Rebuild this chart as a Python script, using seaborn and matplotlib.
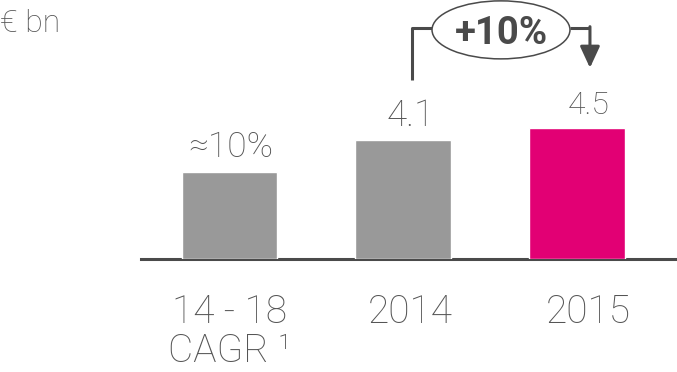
import matplotlib
matplotlib.use("Agg")
import matplotlib.pyplot as plt
import matplotlib.transforms as mtransforms
from matplotlib.patches import Ellipse
import seaborn as sns
import pandas as pd

# Revenue figures (EUR bn) and labels
categories = ["14 - 18\nCAGR \u00b9", "2014", "2015"]
values = [3.0, 4.1, 4.5]
value_labels = ["\u224810%", "4.1", "4.5"]
bar_colors = ["#999999", "#999999", "#E20074"]
growth_label = "+10%"
unit_label = "\u20ac bn"

TEXT = "#555555"
DARK = "#4a4a4a"
FONT = ["Roboto", "DejaVu Sans"]

sns.set_theme(style="white")
plt.rcParams["font.family"] = FONT
plt.rcParams["font.weight"] = "light"

df = pd.DataFrame({"cat": categories, "val": values})

fig = plt.figure(figsize=(6.77, 3.72), dpi=100)
ax = fig.add_axes([141 / 677, 113 / 372, 536 / 677, 259 / 372])

sns.barplot(data=df, x="cat", y="val", hue="cat", palette=bar_colors,
            width=0.55, legend=False, ax=ax, saturation=1)

ax.set_xlim(-0.509, 2.576)
ax.set_ylim(0, 8.93)
ax.set_xlabel("")
ax.set_ylabel("")
ax.set_yticks([])
for side in ["top", "right", "left"]:
    ax.spines[side].set_visible(False)
ax.spines["bottom"].set_color(DARK)
ax.spines["bottom"].set_linewidth(2.2)
ax.spines["bottom"].set_zorder(0.5)

# Category labels under the axis line
ax.tick_params(axis="x", length=0, pad=25, labelsize=28, labelcolor=TEXT)
tick_shift = [0, 5.4, 7.9]
for lab, dx in zip(ax.get_xticklabels(), tick_shift):
    lab.set_linespacing(1.06)
    lab.set_fontweight("light")
    lab.set_transform(lab.get_transform() +
                      mtransforms.ScaledTranslation(dx / 72, 0, fig.dpi_scale_trans))

# Value labels above the bars
label_sizes = [25.5, 26.5, 23]
label_dx = [0.01, 0.045, 0.065]
for i, (v, txt) in enumerate(zip(values, value_labels)):
    ax.text(i + label_dx[i], v + 0.5, txt, ha="center", va="baseline",
            fontsize=label_sizes[i], color=TEXT, fontweight="light")

# Growth bracket from 2014 to 2015
y_br = 7.97
x_left, x_right = 1.05, 2.075
ax.plot([x_left, x_left, 1.165], [values[1] + 2.07, y_br, y_br],
        color=DARK, lw=2.2, solid_capstyle="butt", clip_on=False)
ax.plot([1.96, x_right], [y_br, y_br], color=DARK, lw=2.2,
        solid_capstyle="butt", clip_on=False)
ax.annotate("", xy=(x_right, values[2] + 2.09), xytext=(x_right, y_br + 0.04),
            arrowprops=dict(arrowstyle="-|>,head_length=0.65,head_width=0.3",
                            mutation_scale=20, color=DARK, lw=2.2,
                            shrinkA=0, shrinkB=0),
            annotation_clip=False)
ax.add_patch(Ellipse((1.563, 7.90), 0.794, 2.0, facecolor="white",
                     edgecolor=DARK, lw=1.1, clip_on=False, zorder=3))
ax.text(1.563, 7.90, growth_label, ha="center", va="center_baseline",
        fontsize=27.5, fontweight="bold", color=DARK, zorder=4)

fig.text(0, 1 - 32 / 372, unit_label, ha="left", va="baseline",
         fontsize=23, color=TEXT, fontweight="light")

fig.savefig("out.png", dpi=100)
